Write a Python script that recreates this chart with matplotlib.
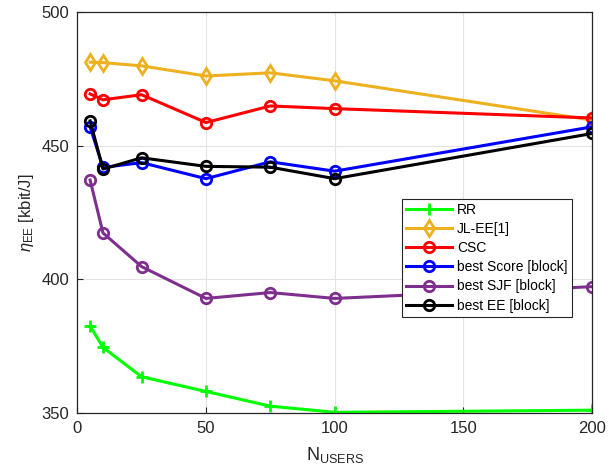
import numpy as np
import matplotlib.pyplot as plt

# Nombre d'utilisateurs
n_users = [5, 10, 25, 50, 75, 100, 200]

# Efficacité énergétique (kbit/J) par stratégie
rr = [382.5, 374.5, 363.5, 358.0, 352.5, 350.2, 351.0]
jl_ee = [481.2, 481.0, 479.8, 476.0, 477.2, 474.2, 459.5]
csc = [469.3, 467.1, 469.0, 458.6, 464.8, 463.8, 460.3]
best_score = [457.0, 441.8, 443.6, 437.6, 443.9, 440.4, 457.0]
best_sjf = [437.1, 417.3, 404.7, 392.8, 395.0, 392.8, 397.2]
best_ee = [459.2, 441.2, 445.4, 442.2, 441.9, 437.6, 454.5]

series = [
    ('RR', rr, (0, 1, 0), '+', 8),
    ('JL-EE[1]', jl_ee, (0.929, 0.694, 0.125), 'd', 8),
    ('CSC', csc, (1, 0, 0), 'o', 7.5),
    ('best Score [block]', best_score, (0, 0, 1), 'o', 7.5),
    ('best SJF [block]', best_sjf, (0.494, 0.184, 0.556), 'o', 7.5),
    ('best EE [block]', best_ee, (0, 0, 0), 'o', 7.5),
]

plt.rcParams['font.family'] = ['Arial', 'Liberation Sans', 'DejaVu Sans']
plt.rcParams['mathtext.fontset'] = 'custom'
plt.rcParams['mathtext.rm'] = 'Liberation Sans'
plt.rcParams['mathtext.it'] = 'Liberation Sans:italic'

fig = plt.figure(figsize=(6.13, 4.74), dpi=100)
ax = fig.add_axes([0.126, 0.129, 0.840, 0.846])

for label, vals, color, marker, ms in series:
    ax.plot(n_users, vals, color=color, marker=marker, lw=2.2,
            markersize=ms, mew=2, markerfacecolor='none', label=label)

ax.set_xlim(0, 200)
ax.set_ylim(350, 500)
ax.set_xticks([0, 50, 100, 150, 200])
ax.set_yticks([350, 400, 450, 500])
ax.grid(True, color='#e3e3e3', lw=0.8)
ax.set_axisbelow(True)
ax.tick_params(direction='in', labelsize=12, colors='#262626', length=4, pad=6)
for sp in ax.spines.values():
    sp.set_color('#262626')
    sp.set_linewidth(0.9)

ax.set_xlabel(r'N$_{\mathrm{USERS}}$', fontsize=13, color='#262626', labelpad=6)
ax.set_ylabel(r'$\eta_{\mathrm{EE}}$ [kbit/J]', fontsize=12, color='#262626')

leg = ax.legend(loc='upper left', bbox_to_anchor=(0.631, 0.534), fontsize=10,
                fancybox=False, framealpha=1, edgecolor='#262626',
                borderpad=0.3, labelspacing=0.37, handlelength=3.3,
                handletextpad=0.35, borderaxespad=0)
leg.get_frame().set_linewidth(0.8)

plt.savefig('out.png', dpi=100)
